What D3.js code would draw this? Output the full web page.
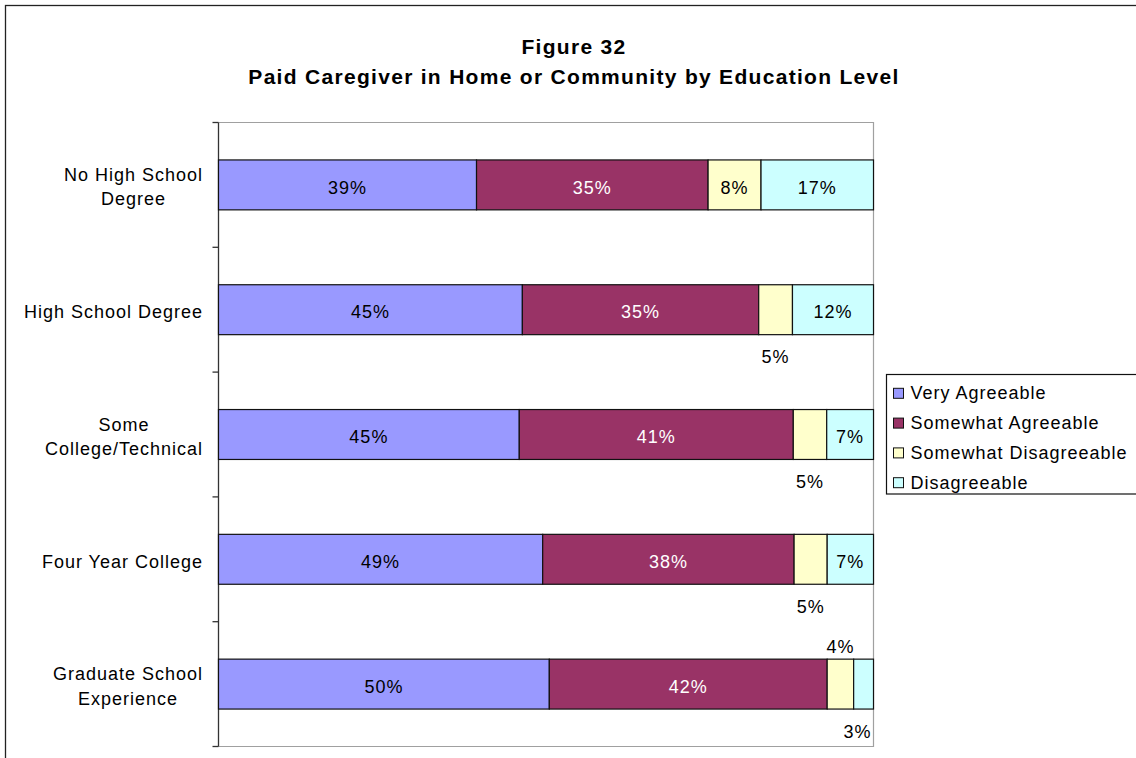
<!DOCTYPE html>
<html>
<head>
<meta charset="utf-8">
<script src="https://cdn.jsdelivr.net/npm/d3@7/dist/d3.min.js"></script>
<style>
  html, body { margin: 0; padding: 0; background: #fff; }
  svg { display: block; font-family: "Liberation Sans", Arial, sans-serif; }
  .lbl { font-size: 18px; letter-spacing: 1px; }
  .title { font-size: 21px; font-weight: bold; letter-spacing: 1.3px; }
</style>
</head>
<body>
<svg id="chart" width="1136" height="758"></svg>
<script>
// Survey responses by education level (percent)
const categories = [
  ["No High School", "Degree"],
  ["High School Degree"],
  ["Some", "College/Technical"],
  ["Four Year College"],
  ["Graduate School", "Experience"]
];
const seriesNames = ["Very Agreeable", "Somewhat Agreeable", "Somewhat Disagreeable", "Disagreeable"];
const veryAgreeable        = [39, 45, 45, 49, 50];
const somewhatAgreeable    = [35, 35, 41, 38, 42];
const somewhatDisagreeable = [8, 5, 5, 5, 4];
const disagreeable         = [17, 12, 7, 7, 3];

const fills = ["#9999ff", "#993366", "#ffffcc", "#ccffff"];
const labelColors = ["#000", "#fff", "#000", "#000"];

const svg = d3.select("#chart");

// outer chart frame
svg.append("rect")
  .attr("x", 5.5).attr("y", 5.5)
  .attr("width", 1300).attr("height", 900)
  .attr("fill", "none").attr("stroke", "#222").attr("stroke-width", 1.3);

// title
const titleX = 574;
svg.append("text").attr("class", "title").attr("x", titleX).attr("y", 53.5)
  .attr("text-anchor", "middle").text("Figure 32");
svg.append("text").attr("class", "title").attr("x", titleX).attr("y", 83.5)
  .attr("text-anchor", "middle").text("Paid Caregiver in Home or Community by Education Level");

// plot geometry
const plotLeft = 218.5, plotRight = 873.5, plotTop = 122.5, plotBottom = 746.5;

const rows = categories.map((c, i) => ({
  key: c.join(" "),
  lines: c,
  [seriesNames[0]]: veryAgreeable[i],
  [seriesNames[1]]: somewhatAgreeable[i],
  [seriesNames[2]]: somewhatDisagreeable[i],
  [seriesNames[3]]: disagreeable[i]
}));

const stack = d3.stack().keys(seriesNames).offset(d3.stackOffsetExpand);
const layers = stack(rows);

const x = d3.scaleLinear().domain([0, 1]).range([plotLeft, plotRight]);
const y = d3.scaleBand().domain(rows.map(r => r.key)).range([plotTop, plotBottom])
  .paddingInner(0.6).paddingOuter(0.3);

// plot area border (gray on top/right/bottom)
svg.append("path")
  .attr("d", `M${plotLeft},${plotTop}H${plotRight}V${plotBottom}H${plotLeft}`)
  .attr("fill", "none").attr("stroke", "#a0a0a0").attr("stroke-width", 1.2);

// category axis with ticks at band boundaries
const tickScale = d3.scaleLinear().domain([0, rows.length]).range([plotTop, plotBottom]);
const axis = svg.append("g");
axis.append("line").attr("x1", plotLeft).attr("x2", plotLeft).attr("y1", plotTop).attr("y2", plotBottom)
  .attr("stroke", "#333").attr("stroke-width", 1.3);
axis.selectAll("line.tick").data(d3.range(rows.length + 1)).join("line")
  .attr("class", "tick")
  .attr("x1", plotLeft - 6).attr("x2", plotLeft)
  .attr("y1", d => tickScale(d)).attr("y2", d => tickScale(d))
  .attr("stroke", "#333").attr("stroke-width", 1.3);

// category labels: centered lines, block right-aligned to the axis
rows.forEach(r => {
  const cy = y(r.key) + y.bandwidth() / 2;
  const g = svg.append("g");
  const n = r.lines.length;
  const texts = r.lines.map((line, i) =>
    g.append("text").attr("class", "lbl")
      .attr("y", cy + 8.3 + (i - (n - 1) / 2) * 24.3)
      .attr("text-anchor", "middle")
      .text(line));
  const maxW = d3.max(texts, t => t.node().getComputedTextLength());
  texts.forEach(t => t.attr("x", 203 - maxW / 2));
});

// bars
const barG = svg.append("g");
layers.forEach((layer, si) => {
  barG.selectAll(null).data(layer).join("rect")
    .attr("x", d => x(d[0]))
    .attr("y", d => y(d.data.key))
    .attr("width", d => x(d[1]) - x(d[0]))
    .attr("height", y.bandwidth())
    .attr("fill", fills[si])
    .attr("stroke", "#111")
    .attr("stroke-width", 1.2);
});

// value labels: inside when the segment is wide enough, otherwise outside
const minInside = 40;
rows.forEach((r, ri) => {
  const segs = layers.map((layer, si) => ({ si, d: layer[ri] }));
  const outside = segs.filter(s => x(s.d[1]) - x(s.d[0]) < minInside);
  segs.forEach(s => {
    const x0 = x(s.d[0]), x1 = x(s.d[1]);
    const value = s.d.data[seriesNames[s.si]];
    const by = y(r.key);
    const t = svg.append("text").attr("class", "lbl").attr("text-anchor", "middle")
      .text(value + "%");
    let cx = (x0 + x1) / 2;
    const oi = outside.indexOf(s);
    if (oi < 0) {
      t.attr("x", cx).attr("y", by + y.bandwidth() / 2 + 8.7).attr("fill", labelColors[s.si]);
    } else {
      const w = t.node().getComputedTextLength();
      cx = Math.min(cx, plotRight - 2 - w / 2);
      const below = oi === outside.length - 1;
      t.attr("x", cx)
        .attr("y", below ? by + y.bandwidth() + 28.5 : by - 6)
        .attr("fill", "#000");
    }
  });
});

// legend
const lg = svg.append("g");
lg.append("rect").attr("x", 886.5).attr("y", 374.5).attr("width", 300).attr("height", 119.5)
  .attr("fill", "#fff").attr("stroke", "#111").attr("stroke-width", 1.2);
seriesNames.forEach((name, i) => {
  const base = 399.3 + i * 29.8;
  lg.append("rect").attr("x", 893.5).attr("y", base - 11).attr("width", 10).attr("height", 10)
    .attr("fill", fills[i]).attr("stroke", "#111").attr("stroke-width", 1);
  lg.append("text").attr("class", "lbl").attr("x", 910.5).attr("y", base).text(name);
});
</script>
</body>
</html>
